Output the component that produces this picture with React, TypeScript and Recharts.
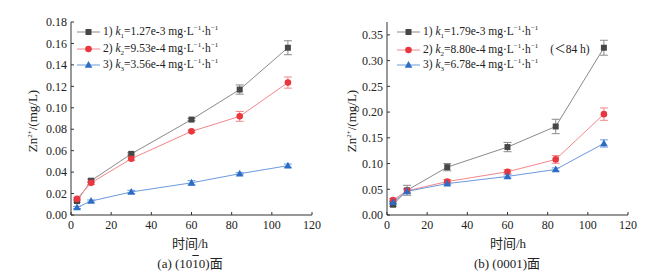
import React from 'react';
import { LineChart, Line, XAxis, YAxis, ErrorBar } from 'recharts';

const times = [3, 10, 30, 60, 84, 108];

// (a) (10-10) face
const a1 = [0.013, 0.032, 0.057, 0.089, 0.117, 0.156];
const a1e = [0.001, 0.0015, 0.001, 0.001, 0.0043, 0.0065];
const a2 = [0.015, 0.030, 0.0525, 0.078, 0.092, 0.1235];
const a2e = [0.001, 0.0015, 0.0015, 0.001, 0.0046, 0.0052];
const a3 = [0.007, 0.013, 0.0215, 0.030, 0.0385, 0.046];
const a3e = [0.001, 0.001, 0.0015, 0.002, 0.001, 0.0015];

// (b) (0001) face
const b1 = [0.020, 0.048, 0.093, 0.132, 0.172, 0.325];
const b1e = [0.003, 0.0097, 0.007, 0.009, 0.014, 0.0145];
const b2 = [0.029, 0.047, 0.065, 0.084, 0.108, 0.196];
const b2e = [0.003, 0.004, 0.004, 0.004, 0.0075, 0.012];
const b3 = [0.025, 0.046, 0.061, 0.075, 0.0885, 0.139];
const b3e = [0.002, 0.004, 0.002, 0.003, 0.003, 0.007];

const xTicks = [0, 20, 40, 60, 80, 100, 120];
const aTicks = [0, 0.02, 0.04, 0.06, 0.08, 0.10, 0.12, 0.14, 0.16, 0.18];
const bTicks = [0, 0.05, 0.10, 0.15, 0.20, 0.25, 0.30, 0.35];

const aLegend = ['1.27e-3', '9.53e-4', '3.56e-4'];
const bLegend = ['1.79e-3', '8.80e-4', '6.78e-4'];

const build = (s1: number[], e1: number[], s2: number[], e2: number[], s3: number[], e3: number[]) =>
  times.map((x, i) => ({ x, s1: s1[i], s1e: e1[i], s2: s2[i], s2e: e2[i], s3: s3[i], s3e: e3[i] }));

const dataA = build(a1, a1e, a2, a2e, a3, a3e);
const dataB = build(b1, b1e, b2, b2e, b3, b3e);

const FONT = "'Liberation Serif', 'DejaVu Serif', serif";
const CJK = "'Noto Sans CJK SC', sans-serif";
const AXIS = '#333';

const C = {
  l1: '#8a8a8a', m1: '#474747',
  l2: '#f4868a', m2: '#e8383f',
  l3: '#6a9ade', m3: '#2b6cc4',
};

const Square = (props: any) => {
  const { cx, cy } = props;
  if (cx == null || cy == null) return null;
  return <rect x={cx - 3} y={cy - 3} width={6} height={6} fill={C.m1} />;
};
const Circle = (props: any) => {
  const { cx, cy } = props;
  if (cx == null || cy == null) return null;
  return <circle cx={cx} cy={cy} r={3.3} fill={C.m2} />;
};
const Tri = (props: any) => {
  const { cx, cy } = props;
  if (cx == null || cy == null) return null;
  return <polygon points={`${cx},${cy - 4} ${cx - 3.8},${cy + 2.8} ${cx + 3.8},${cy + 2.8}`} fill={C.m3} />;
};

const tickStyle = { fontFamily: FONT, fontSize: 12, fill: '#222' };

type PanelProps = {
  data: any[];
  yMax: number;
  yTicks: number[];
  yWidth: number;
  width: number;
};

const Panel = ({ data, yMax, yTicks, yWidth, width }: PanelProps) => (
  <LineChart width={width} height={277} data={data} margin={{ top: 22, right: width - yWidth - 241, bottom: 0, left: 0 }} style={{ fontFamily: FONT }}>
    <XAxis
      dataKey="x"
      type="number"
      domain={[0, 120]}
      ticks={xTicks}
      tickSize={-3}
      tickMargin={8}
      height={62}
      stroke={AXIS}
      tick={tickStyle}
      interval={0}
    />
    <XAxis xAxisId="top" orientation="top" type="number" domain={[0, 120]} tick={false} tickLine={false} height={0} stroke={AXIS} />
    <YAxis
      type="number"
      domain={[0, yMax]}
      ticks={yTicks}
      tickSize={-3}
      tickMargin={7}
      width={yWidth}
      stroke={AXIS}
      tick={tickStyle}
      interval={0}
      tickFormatter={(v: number) => v.toFixed(2)}
    />
    <YAxis yAxisId="r" orientation="right" domain={[0, yMax]} tick={false} tickLine={false} width={0} stroke={AXIS} />
    <Line dataKey="s1" stroke={C.l1} strokeWidth={1} dot={<Square />} isAnimationActive={false}>
      <ErrorBar dataKey="s1e" direction="y" width={4} stroke={C.l1} strokeWidth={1} />
    </Line>
    <Line dataKey="s2" stroke={C.l2} strokeWidth={1} dot={<Circle />} isAnimationActive={false}>
      <ErrorBar dataKey="s2e" direction="y" width={4} stroke={C.l2} strokeWidth={1} />
    </Line>
    <Line dataKey="s3" stroke={C.l3} strokeWidth={1} dot={<Tri />} isAnimationActive={false}>
      <ErrorBar dataKey="s3e" direction="y" width={4} stroke={C.l3} strokeWidth={1} />
    </Line>
  </LineChart>
);

const Marker = ({ i }: { i: number }) => {
  const line = [C.l1, C.l2, C.l3][i];
  return (
    <svg width={23} height={10} style={{ verticalAlign: 'middle', marginRight: 3 }}>
      <line x1={0} y1={5} x2={23} y2={5} stroke={line} strokeWidth={1} />
      {i === 0 && <rect x={8.5} y={2} width={6} height={6} fill={C.m1} />}
      {i === 1 && <circle cx={11.5} cy={5} r={3.3} fill={C.m2} />}
      {i === 2 && <polygon points="11.5,1 7.7,7.8 15.3,7.8" fill={C.m3} />}
    </svg>
  );
};

const supStyle: React.CSSProperties = { fontSize: 7, verticalAlign: 'super', lineHeight: 0 };
const subStyle: React.CSSProperties = { fontSize: 7, verticalAlign: 'sub', lineHeight: 0 };

const LegendBox = ({ left, values, extra }: { left: number; values: string[]; extra?: boolean }) => (
  <div style={{ position: 'absolute', left, top: 23, fontFamily: FONT, fontSize: 11.5, color: '#222', lineHeight: '16.5px', whiteSpace: 'nowrap' }}>
    {values.map((v, i) => (
      <div key={i} style={{ height: 16.5 }}>
        <Marker i={i} />
        <span>
          {i + 1}) <i>k</i>
          <span style={subStyle}>{i + 1}</span>={v} mg·L<span style={supStyle}>−1</span>·h<span style={supStyle}>−1</span>
        </span>
        {extra && i === 1 && (
          <span style={{ marginLeft: 12 }}>
            (<span style={{ fontFamily: CJK }}>＜</span>84 h)
          </span>
        )}
      </div>
    ))}
  </div>
);

const YLabel = ({ cx, cy }: { cx: number; cy: number }) => (
  <div
    style={{
      position: 'absolute', left: cx - 60, top: cy - 8, width: 120, height: 16, lineHeight: '16px', textAlign: 'center',
      transform: 'rotate(-90deg)', fontFamily: FONT, fontSize: 13, color: '#222', whiteSpace: 'nowrap',
    }}
  >
    Zn<span style={supStyle}>2+</span>/(mg/L)
  </div>
);

const CenterText = ({ cx, cy, children }: { cx: number; cy: number; children: React.ReactNode }) => (
  <div
    style={{
      position: 'absolute', left: cx - 80, top: cy - 8, width: 160, height: 16, lineHeight: '16px', textAlign: 'center',
      fontFamily: FONT, fontSize: 13, color: '#222', whiteSpace: 'nowrap',
    }}
  >
    {children}
  </div>
);

export default function App() {
  return (
    <div style={{ position: 'absolute', left: 0, top: 0, width: 658, height: 277, background: '#fff', overflow: 'hidden' }}>
      <div style={{ position: 'absolute', left: 0, top: 0 }}>
        <Panel data={dataA} yMax={0.18} yTicks={aTicks} yWidth={71} width={330} />
      </div>
      <div style={{ position: 'absolute', left: 330, top: 0 }}>
        <Panel data={dataB} yMax={0.375} yTicks={bTicks} yWidth={57} width={328} />
      </div>
      <LegendBox left={77} values={aLegend} />
      <LegendBox left={397} values={bLegend} extra />
      <YLabel cx={33} cy={121} />
      <YLabel cx={352} cy={121} />
      <CenterText cx={190} cy={243}><span style={{ fontFamily: CJK }}>时间</span>/h</CenterText>
      <CenterText cx={508} cy={243}><span style={{ fontFamily: CJK }}>时间</span>/h</CenterText>
      <CenterText cx={190} cy={263}>
        (a) (10<span style={{ textDecoration: 'overline' }}>1</span>0)<span style={{ fontFamily: CJK }}>面</span>
      </CenterText>
      <CenterText cx={507} cy={263}>(b) (0001)<span style={{ fontFamily: CJK }}>面</span></CenterText>
    </div>
  );
}
